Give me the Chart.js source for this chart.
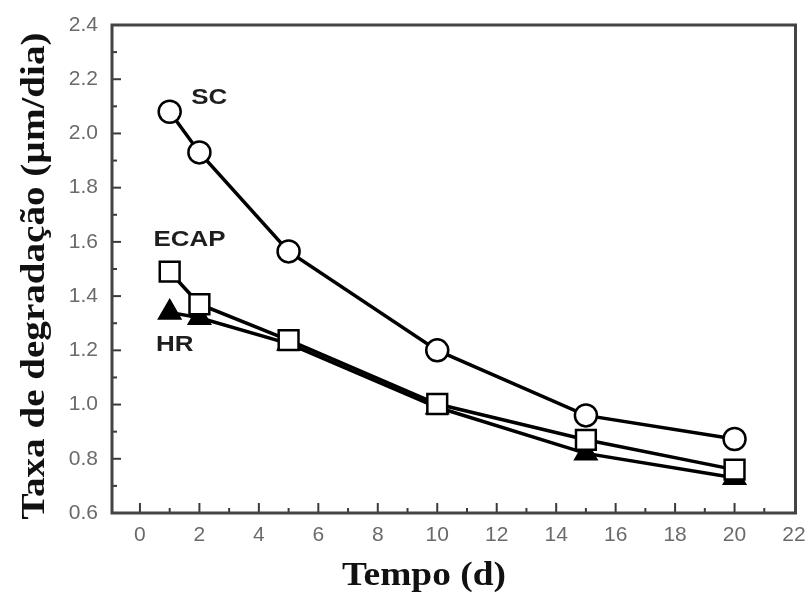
<!DOCTYPE html>
<html>
<head>
<meta charset="utf-8">
<script src="https://cdn.jsdelivr.net/npm/chart.js@4/dist/chart.umd.min.js"></script>
<style>
  html, body { margin: 0; padding: 0; background: #fff; }
  #wrap { width: 812px; height: 595px; position: relative; }
</style>
</head>
<body>
<div id="wrap"><canvas id="chart"></canvas></div>
<script>
// data
const days = [1, 2, 5, 10, 15, 20];
const scRate = [2.08, 1.93, 1.565, 1.20, 0.96, 0.873];
const ecapRate = [1.49, 1.37, 1.238, 1.002, 0.87, 0.76];
const hrRate = [1.34, 1.32, 1.225, 0.99, 0.82, 0.73];

const xTicks = [0, 2, 4, 6, 8, 10, 12, 14, 16, 18, 20, 22];
const yTicks = [0.6, 0.8, 1.0, 1.2, 1.4, 1.6, 1.8, 2.0, 2.2, 2.4];

const seriesLabels = ['SC', 'ECAP', 'HR'];
// label anchors in data units
const labelX = [2.33, 1.67, 1.17];
const labelY = [2.13, 1.607, 1.22];

const xTitle = 'Tempo (d)';
const yTitle = 'Taxa de degradação (µm/dia)';

const toPoints = (ys) => ys.map((y, i) => ({ x: days[i], y: y }));

// frame, inward ticks, axis titles and series labels
const decorations = {
    id: 'decorations',
    afterDraw(chart) {
        const ctx = chart.ctx;
        const a = chart.chartArea;
        const xs = chart.scales.x;
        const ys = chart.scales.y;
        ctx.save();

        ctx.strokeStyle = '#3a3a3a';
        ctx.lineWidth = 2;
        for (let v = 0; v <= 22; v++) {
            const px = xs.getPixelForValue(v);
            if (px < a.left || px > a.right - 2) continue;
            const len = v % 2 === 0 ? 10 : 5;
            ctx.beginPath();
            ctx.moveTo(px, a.bottom);
            ctx.lineTo(px, a.bottom - len);
            ctx.stroke();
        }
        for (let k = 6; k <= 24; k++) {
            const py = ys.getPixelForValue(k / 10);
            const len = k % 2 === 0 ? 9 : 5;
            ctx.beginPath();
            ctx.moveTo(a.left, py);
            ctx.lineTo(a.left + len, py);
            ctx.stroke();
        }

        ctx.strokeStyle = '#444';
        ctx.lineWidth = 3;
        ctx.strokeRect(a.left, a.top, a.right - a.left, a.bottom - a.top);

        ctx.fillStyle = '#111';
        ctx.font = 'bold 34px "Liberation Serif", "Times New Roman", serif';
        ctx.textAlign = 'center';
        ctx.textBaseline = 'middle';

        ctx.save();
        ctx.translate(424, 576);
        ctx.scale(1.1, 1);
        ctx.fillText(xTitle, 0, 0);
        ctx.restore();

        ctx.save();
        ctx.translate(35, 276);
        ctx.rotate(-Math.PI / 2);
        ctx.scale(1.15, 1);
        ctx.fillText(yTitle, 0, 0);
        ctx.restore();

        ctx.fillStyle = '#1e1e1e';
        ctx.font = 'bold 22px "Liberation Sans", Arial, sans-serif';
        seriesLabels.forEach((txt, i) => {
            ctx.save();
            ctx.translate(xs.getPixelForValue(labelX[i]), ys.getPixelForValue(labelY[i]));
            ctx.scale(1.18, 1);
            ctx.fillText(txt, 0, 0);
            ctx.restore();
        });

        ctx.restore();
    }
};

const lineStyle = {
    borderColor: '#000',
    borderWidth: 3.5,
    pointBorderColor: '#000',
    pointBorderWidth: 2.5,
    tension: 0,
    fill: false
};

new Chart(document.getElementById('chart'), {
    type: 'line',
    data: {
        datasets: [
            Object.assign({ label: 'SC', data: toPoints(scRate), pointStyle: 'circle', pointRadius: 11, pointBackgroundColor: '#fff' }, lineStyle),
            Object.assign({ label: 'ECAP', data: toPoints(ecapRate), pointStyle: 'rect', pointRadius: 14, pointBackgroundColor: '#fff' }, lineStyle),
            Object.assign({ label: 'HR', data: toPoints(hrRate), pointStyle: 'triangle', pointRadius: 12, pointBackgroundColor: '#000' }, lineStyle)
        ]
    },
    options: {
        responsive: true,
        maintainAspectRatio: false,
        animation: false,
        layout: { padding: { top: 25, right: 15, left: 0, bottom: 0 } },
        plugins: {
            legend: { display: false },
            tooltip: { enabled: false }
        },
        elements: { point: { hoverRadius: 11 } },
        scales: {
            x: {
                type: 'linear',
                min: -0.94,
                max: 22.05,
                grid: { display: false, drawTicks: false },
                border: { display: false },
                afterBuildTicks: (s) => { s.ticks = xTicks.map(v => ({ value: v })); },
                afterFit: (s) => { s.height = 82; s.paddingLeft = 0; s.paddingRight = 0; },
                ticks: {
                    autoSkip: false,
                    maxRotation: 0,
                    padding: 10,
                    color: '#6a6a6a',
                    font: { family: '"Liberation Sans", Arial, sans-serif', size: 21 },
                    callback: (v) => String(v)
                }
            },
            y: {
                type: 'linear',
                min: 0.6,
                max: 2.4,
                grid: { display: false, drawTicks: false },
                border: { display: false },
                afterBuildTicks: (s) => { s.ticks = yTicks.map(v => ({ value: v })); },
                afterFit: (s) => { s.width = 112; s.paddingTop = 0; s.paddingBottom = 0; },
                ticks: {
                    autoSkip: false,
                    padding: 14,
                    color: '#6a6a6a',
                    font: { family: '"Liberation Sans", Arial, sans-serif', size: 21 },
                    callback: (v) => Number(v).toFixed(1)
                }
            }
        }
    },
    plugins: [decorations]
});
</script>
</body>
</html>
